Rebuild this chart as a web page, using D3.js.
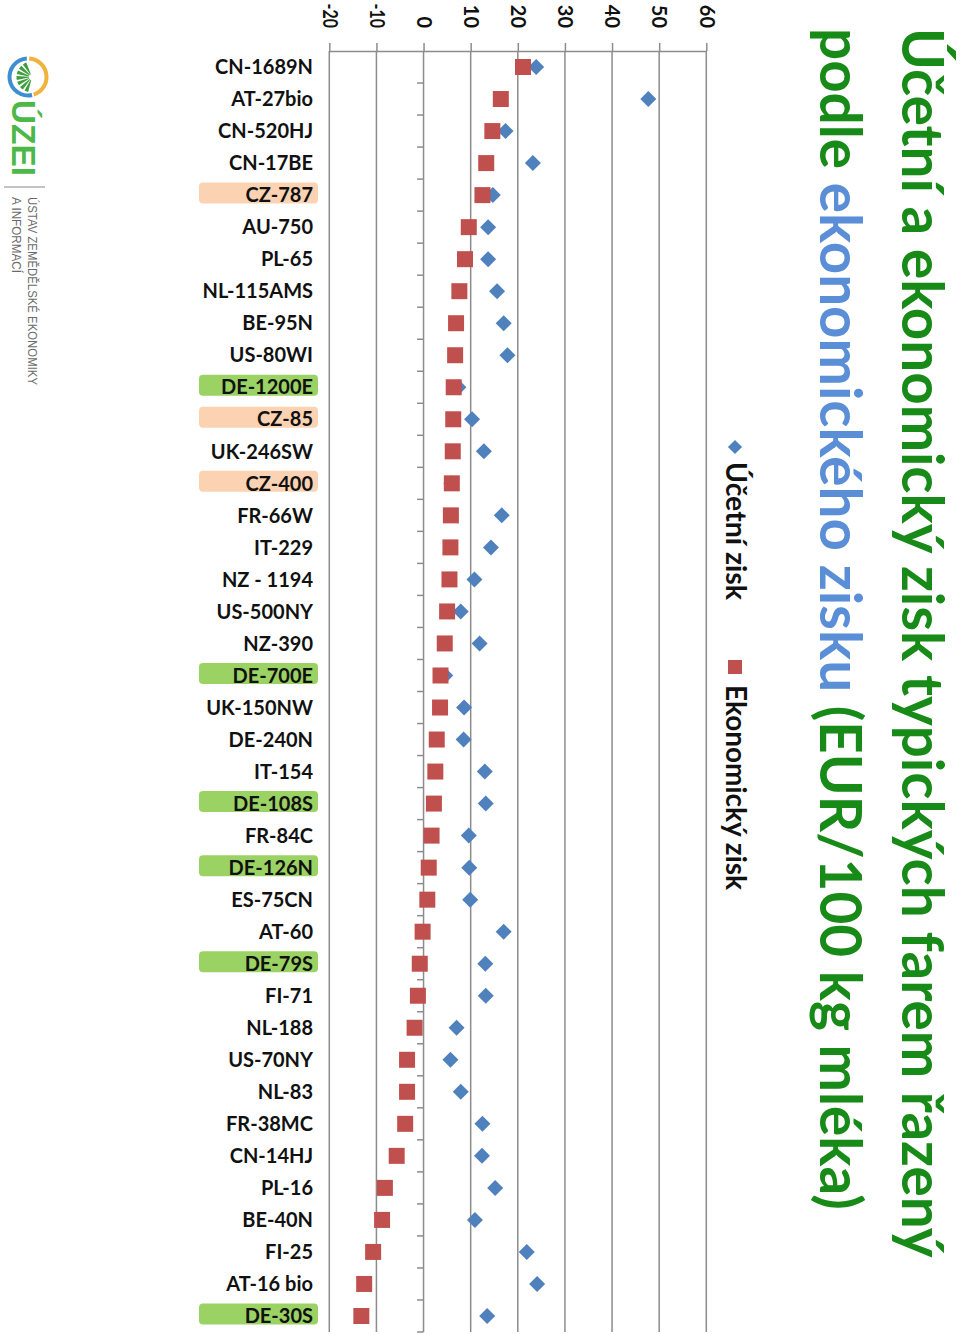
<!DOCTYPE html>
<html><head><meta charset="utf-8">
<script src="https://cdn.jsdelivr.net/npm/d3@7"></script>
<style>body{margin:0;background:#fff} svg{display:block}</style>
</head><body>
<svg id="c" width="960" height="1335"></svg>
<script>
// ---------------- data ----------------
const categories = ["CN-1689N","AT-27bio","CN-520HJ","CN-17BE","CZ-787","AU-750","PL-65","NL-115AMS","BE-95N","US-80WI",
  "DE-1200E","CZ-85","UK-246SW","CZ-400","FR-66W","IT-229","NZ - 1194","US-500NY","NZ-390","DE-700E",
  "UK-150NW","DE-240N","IT-154","DE-108S","FR-84C","DE-126N","ES-75CN","AT-60","DE-79S","FI-71",
  "NL-188","US-70NY","NL-83","FR-38MC","CN-14HJ","PL-16","BE-40N","FI-25","AT-16 bio","DE-30S"];
const ucetniZisk = [23.9,47.7,17.4,23.2,14.7,13.7,13.7,15.6,17.0,17.8,
  7.4,10.3,12.8,5.9,16.6,14.3,10.8,7.9,11.9,4.6,
  8.6,8.5,13.0,13.2,9.6,9.7,9.9,17.0,13.1,13.2,
  7.0,5.7,7.9,12.5,12.4,15.2,10.9,21.9,24.1,13.5];
const ekonomickyZisk = [21.1,16.4,14.6,13.3,12.5,9.6,8.8,7.6,6.9,6.7,
  6.4,6.3,6.2,6.0,5.8,5.7,5.5,5.0,4.5,3.6,
  3.5,2.8,2.5,2.2,1.7,1.1,0.8,-0.2,-0.8,-1.2,
  -1.9,-3.5,-3.5,-3.9,-5.7,-8.2,-8.8,-10.7,-12.6,-13.2];
const tickValues = [-20,-10,0,10,20,30,40,50,60];
const highlightCZ = ["CZ-787","CZ-85","CZ-400"];
const highlightDE = ["DE-1200E","DE-700E","DE-108S","DE-126N","DE-79S","DE-30S"];
const seriesNames = ["Účetní zisk","Ekonomický zisk"];
const titleLine1 = "Účetní a ekonomický zisk typických farem řazený";
const titleLine2 = ["podle ","ekonomického zisku"," (EUR/100 kg mléka)"];
const logoText = ["ÚZEI","ÚSTAV ZEMĚDĚLSKÉ EKONOMIKY","A INFORMACÍ"];

// ---------------- styles ----------------
const FONT = "Lato, 'Open Sans', sans-serif";
const GREEN = "#178a17", BLUE_T = "#5a8ed6";
const C_UC = "#4f81bd", C_EK = "#c0504d";
const GRID = "#8c8c8c";

const svg = d3.select("#c");
const x = d3.scaleLinear().domain([-20,60]).range([329.3,706.3]);
const y = d3.scaleBand().domain(categories).range([51,1332]);
const bw = y.bandwidth();
const cy = c => y(c) + bw/2;

function fitText(sel, target){
  const len = sel.node().getComputedTextLength();
  const fs = parseFloat(sel.attr("font-size"));
  sel.attr("font-size", fs*target/len);
}

// gridlines
svg.append("g").selectAll("line").data(tickValues.filter(t=>t!==0)).join("line")
  .attr("x1",d=>x(d)).attr("x2",d=>x(d)).attr("y1",51).attr("y2",1332)
  .attr("stroke",GRID).attr("stroke-width",1.5);

// category axis at zero
const zx = x(0);
svg.append("line").attr("x1",zx).attr("x2",zx).attr("y1",51).attr("y2",1332)
  .attr("stroke",GRID).attr("stroke-width",1.5);
const bounds = categories.map(c=>y(c)).concat([y.range()[1]]).slice(1);
svg.append("g").selectAll("line").data(bounds).join("line")
  .attr("x1",zx-6.5).attr("x2",zx).attr("y1",d=>d).attr("y2",d=>d)
  .attr("stroke",GRID).attr("stroke-width",1.5);

// value axis (top)
const ax = svg.append("g").attr("transform","translate(0,51)")
  .call(d3.axisTop(x).tickValues(tickValues).tickSize(8).tickSizeOuter(0).tickFormat(d3.format("d")));
ax.select(".domain").attr("stroke",GRID).attr("stroke-width",1.5);
ax.selectAll(".tick line").attr("stroke",GRID).attr("stroke-width",1.5);
ax.selectAll(".tick text")
  .attr("transform","rotate(90)").attr("x",-23).attr("y",0).attr("dy","0.36em")
  .attr("text-anchor","end").attr("font-family",FONT).attr("font-weight","bold")
  .attr("font-size",20).attr("fill","#111").text(d=>d<0?"-"+Math.abs(d):d)
  .each(function(){
    const len = this.getComputedTextLength();
    if (len > 24.5) { d3.select(this).attr("textLength",24.5).attr("lengthAdjust","spacingAndGlyphs"); }
  });

// highlight boxes
const hl = highlightCZ.map(c=>({c,col:"#fbd3b3"})).concat(highlightDE.map(c=>({c,col:"#9bd264"})));
svg.append("g").selectAll("rect").data(hl).join("rect")
  .attr("x",199).attr("width",119).attr("y",d=>cy(d.c)-12.5).attr("height",21)
  .attr("rx",4).attr("fill",d=>d.col);

// category labels
svg.append("g").selectAll("text").data(categories).join("text")
  .attr("x",313).attr("y",d=>cy(d)).attr("dy","0.36em").attr("text-anchor","end")
  .attr("font-family",FONT).attr("font-weight","bold").attr("font-size",20).attr("fill","#111")
  .text(d=>d);

// markers
const diamond = d3.symbol(d3.symbolSquare, 128)();
const square = d3.symbol(d3.symbolSquare, 256)();
svg.append("g").selectAll("path").data(categories.map((c,i)=>({c,v:ucetniZisk[i]}))).join("path")
  .attr("d",diamond).attr("fill",C_UC)
  .attr("transform",d=>`translate(${x(d.v)},${cy(d.c)}) rotate(45)`);
svg.append("g").selectAll("path").data(categories.map((c,i)=>({c,v:ekonomickyZisk[i]}))).join("path")
  .attr("d",square).attr("fill",C_EK)
  .attr("transform",d=>`translate(${x(d.v)},${cy(d.c)})`);

// legend
const lg = svg.append("g");
lg.append("path").attr("d",d3.symbol(d3.symbolSquare,100)()).attr("fill",C_UC)
  .attr("transform","translate(735,447) rotate(45)");
lg.append("path").attr("d",d3.symbol(d3.symbolSquare,196)()).attr("fill",C_EK)
  .attr("transform","translate(735,667)");
[[seriesNames[0],462,138],[seriesNames[1],685,205]].forEach(([t,yy,len])=>{
  const tx = lg.append("text").attr("x",726).attr("y",yy).attr("transform",`rotate(90,726,${yy})`)
    .attr("font-family",FONT).attr("font-weight","bold").attr("font-size",24).attr("fill","#111")
    .text(t);
  fitText(tx, len);
});

// title
const t1 = svg.append("text").attr("x",902).attr("y",28).attr("transform","rotate(90,902,28)")
  .attr("font-family",FONT).attr("font-weight","bold").attr("font-size",46).attr("fill",GREEN)
  .text(titleLine1);
fitText(t1, 1230);
const t2 = svg.append("text").attr("x",820).attr("y",28).attr("transform","rotate(90,820,28)")
  .attr("font-family",FONT).attr("font-weight","bold").attr("font-size",46);
titleLine2.forEach((s,i)=>t2.append("tspan").attr("fill",i===1?BLUE_T:GREEN).text(s));
fitText(t2, 1182);

// logo
const logo = svg.append("g");
const lc = [28,77];
logo.append("path").attr("transform",`translate(${lc})`)
  .attr("d",d3.arc().innerRadius(16.5).outerRadius(20.5).startAngle(Math.PI*0.93).endAngle(Math.PI*1.98)())
  .attr("fill","#3d8fd1");
logo.append("path").attr("transform",`translate(${lc})`)
  .attr("d",d3.arc().innerRadius(16.5).outerRadius(20.5).startAngle(Math.PI*0.02).endAngle(Math.PI*0.9)())
  .attr("fill","#f0b43c");
const rays = d3.range(7);
logo.append("g").attr("transform",`translate(${lc[0]+4},${lc[1]})`).selectAll("path").data(rays).join("path")
  .attr("d",i=>d3.arc().innerRadius(3).outerRadius(15.5).startAngle(Math.PI*(1.08+i*0.12)).endAngle(Math.PI*(1.08+i*0.12+0.08))())
  .attr("fill","#3f9f3f");
logo.append("text").attr("x",12).attr("y",100).attr("transform","rotate(90,12,100)")
  .attr("font-family","'Liberation Sans', Arial, sans-serif").attr("font-weight","bold").attr("font-size",34)
  .attr("fill","#4cb848").attr("textLength",76).attr("lengthAdjust","spacingAndGlyphs").text(logoText[0]);
logo.append("line").attr("x1",4).attr("x2",45).attr("y1",187).attr("y2",187).attr("stroke","#888").attr("stroke-width",1.2);
logo.append("text").attr("x",28).attr("y",197).attr("transform","rotate(90,28,197)")
  .attr("font-family","'Liberation Sans', Arial, sans-serif").attr("font-size",12.5).attr("fill","#6a6a6a")
  .attr("textLength",188).attr("lengthAdjust","spacingAndGlyphs").text(logoText[1]);
logo.append("text").attr("x",12).attr("y",197).attr("transform","rotate(90,12,197)")
  .attr("font-family","'Liberation Sans', Arial, sans-serif").attr("font-size",12.5).attr("fill","#6a6a6a")
  .attr("textLength",76).attr("lengthAdjust","spacingAndGlyphs").text(logoText[2]);
</script>
</body></html>
